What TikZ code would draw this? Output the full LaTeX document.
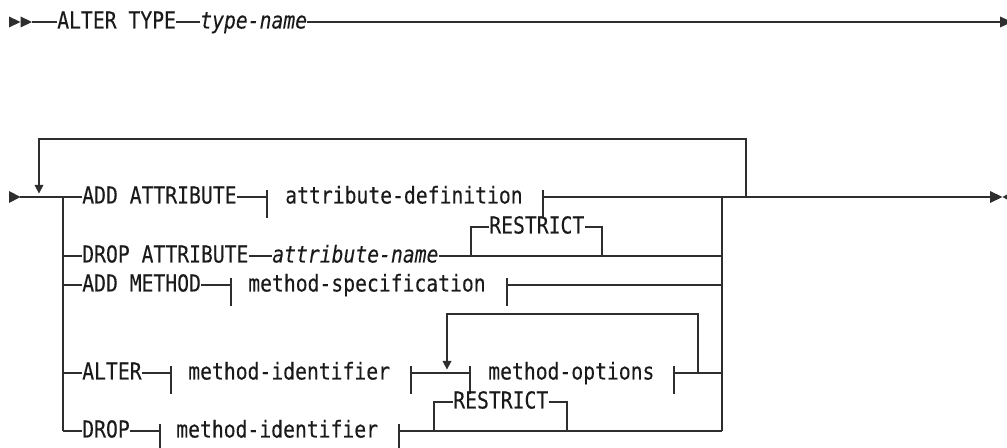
\documentclass[tikz,border=0pt]{standalone}
\usepackage{fontspec}
\setmonofont[FakeStretch=0.845,FakeBold=0.2]{DejaVu Sans Mono}
\definecolor{ink}{HTML}{2E2E2E}
\definecolor{txt}{HTML}{1A1A1A}
\newcommand{\rrfont}{\ttfamily\fontsize{17.5}{19}\selectfont}
\begin{document}
\begin{tikzpicture}[x=0.75pt,y=-0.75pt,
  rail/.style={draw=ink,line width=1pt},
  kw/.style={anchor=base west,inner sep=0pt,text=txt,font=\rrfont},
  var/.style={anchor=base west,inner sep=0pt,text=txt,font=\rrfont\itshape},
  tipfill/.style={fill=ink}]
\clip (0,0) rectangle (1007,448);
% ---------- first line ----------
\coordinate (s0) at (9,22);
\coordinate (s1) at (32,22);
\coordinate (e0) at (1000,22);
\node[kw] (alt) at (57,28.5) {ALTER TYPE};
\node[var] (tn) at (200,28.5) {type-name};
\fill[tipfill] (s0) ++(0,-5.5) -- ++(11.5,5.5) -- ++(-11.5,5.5) -- cycle;
\fill[tipfill] (s0) ++(11.5,-5.5) -- ++(11.5,5.5) -- ++(-11.5,5.5) -- cycle;
\draw[rail] (s1) -- (alt.west |- s1);
\draw[rail] (alt.east |- s1) -- (tn.west |- s1);
\draw[rail] (tn.east |- s1) -- (e0);
\fill[tipfill] (e0) ++(0,-5.5) -- ++(12,5.5) -- ++(-12,5.5) -- cycle;
% ---------- second part ----------
\coordinate (st) at (9,197);
\coordinate (st1) at (20,197);
\coordinate (br1) at (63,197);
\coordinate (br2) at (63,256);
\coordinate (br3) at (63,285);
\coordinate (br4) at (63,373);
\coordinate (br5) at (63,431);
\coordinate (col1) at (722,197);
\coordinate (col2) at (722,256);
\coordinate (col3) at (722,285);
\coordinate (col4) at (722,373);
\coordinate (col5) at (722,431);
\coordinate (lpB) at (39,185);
\coordinate (lpTL) at (39,139);
\coordinate (lpTR) at (746,139);
\coordinate (lpR) at (746,197);
\coordinate (fin) at (990,197);
\fill[tipfill] (st) ++(0,-6) -- ++(11.5,6) -- ++(-11.5,6) -- cycle;
\draw[rail] (st1) -- (br1);
% loop back
\draw[rail] (lpR) -- (lpTR) -- (lpTL) -- (lpB);
\fill[tipfill] (lpB) ++(-4.5,0) -- ++(9,0) -- ++(-4.5,8.5) -- cycle;
% branch and collector verticals
\draw[rail] (br1) -- (br5);
\draw[rail] (col1) -- (col5);
% row 1
\node[kw] (r1k) at (82,203.5) {ADD ATTRIBUTE};
\node[kw] (r1d) at (285,203.5) {attribute-definition};
\coordinate (r1b1) at (267,197);
\coordinate (r1b2) at (543,197);
\draw[rail] (br1) -- (r1k.west |- br1);
\draw[rail] (r1k.east |- br1) -- (r1b1);
\draw[rail] (r1b1) ++(0,-7) -- ++(0,28);
\draw[rail] (r1b2) ++(0,-7) -- ++(0,28);
\draw[rail] (r1b2) -- (col1) -- (lpR) -- (fin);
\fill[tipfill] (fin) ++(0,-6) -- ++(12.5,6) -- ++(-12.5,6) -- cycle;
\fill[tipfill] (fin) ++(12.5,0) -- ++(11,-6) -- ++(0,12) -- cycle;
% row 2
\node[kw] (r2k) at (82,262.5) {DROP ATTRIBUTE};
\node[var] (r2v) at (272,262.5) {attribute-name};
\node[kw] (r2r) at (489,233.5) {RESTRICT};
\coordinate (r2a) at (471,256);
\coordinate (r2b) at (602,256);
\coordinate (r2ta) at (471,227);
\coordinate (r2tb) at (602,227);
\draw[rail] (br2) -- (r2k.west |- br2);
\draw[rail] (r2k.east |- br2) -- (r2v.west |- br2);
\draw[rail] (r2v.east |- br2) -- (col2);
\draw[rail] (r2a) -- (r2ta) -- (r2r.west |- r2ta);
\draw[rail] (r2r.east |- r2ta) -- (r2tb) -- (r2b);
% row 3
\node[kw] (r3k) at (82,291.5) {ADD METHOD};
\node[kw] (r3d) at (248,291.5) {method-specification};
\coordinate (r3b1) at (231,285);
\coordinate (r3b2) at (507,285);
\draw[rail] (br3) -- (r3k.west |- br3);
\draw[rail] (r3k.east |- br3) -- (r3b1);
\draw[rail] (r3b1) ++(0,-7) -- ++(0,28);
\draw[rail] (r3b2) ++(0,-7) -- ++(0,28);
\draw[rail] (r3b2) -- (col3);
% row 4
\node[kw] (r4k) at (82,379.5) {ALTER};
\node[kw] (r4d) at (188,379.5) {method-identifier};
\node[kw] (r4o) at (488,379.5) {method-options};
\coordinate (r4b1) at (171,373);
\coordinate (r4b2) at (411,373);
\coordinate (r4b3) at (470,373);
\coordinate (r4b4) at (674,373);
\coordinate (r4lR) at (698,373);
\coordinate (r4lTR) at (698,314);
\coordinate (r4lTL) at (447,314);
\coordinate (r4lB) at (447,361);
\draw[rail] (br4) -- (r4k.west |- br4);
\draw[rail] (r4k.east |- br4) -- (r4b1);
\draw[rail] (r4b1) ++(0,-7) -- ++(0,28);
\draw[rail] (r4b2) ++(0,-7) -- ++(0,28);
\draw[rail] (r4b2) -- (r4b3);
\draw[rail] (r4b3) ++(0,-7) -- ++(0,28);
\draw[rail] (r4b4) ++(0,-7) -- ++(0,28);
\draw[rail] (r4b4) -- (col4);
\draw[rail] (r4lR) -- (r4lTR) -- (r4lTL) -- (r4lB);
\fill[tipfill] (r4lB) ++(-4.5,0) -- ++(9,0) -- ++(-4.5,8.5) -- cycle;
% row 5
\node[kw] (r5k) at (82,437.5) {DROP};
\node[kw] (r5d) at (176,437.5) {method-identifier};
\node[kw] (r5r) at (453,408.5) {RESTRICT};
\coordinate (r5b1) at (160,431);
\coordinate (r5b2) at (399,431);
\coordinate (r5a) at (434,431);
\coordinate (r5b) at (567,431);
\coordinate (r5ta) at (434,402);
\coordinate (r5tb) at (567,402);
\draw[rail] (br5) -- (r5k.west |- br5);
\draw[rail] (r5k.east |- br5) -- (r5b1);
\draw[rail] (r5b1) ++(0,-7) -- ++(0,28);
\draw[rail] (r5b2) ++(0,-7) -- ++(0,28);
\draw[rail] (r5b2) -- (col5);
\draw[rail] (r5a) -- (r5ta) -- (r5r.west |- r5ta);
\draw[rail] (r5r.east |- r5ta) -- (r5tb) -- (r5b);
\end{tikzpicture}
\end{document}
